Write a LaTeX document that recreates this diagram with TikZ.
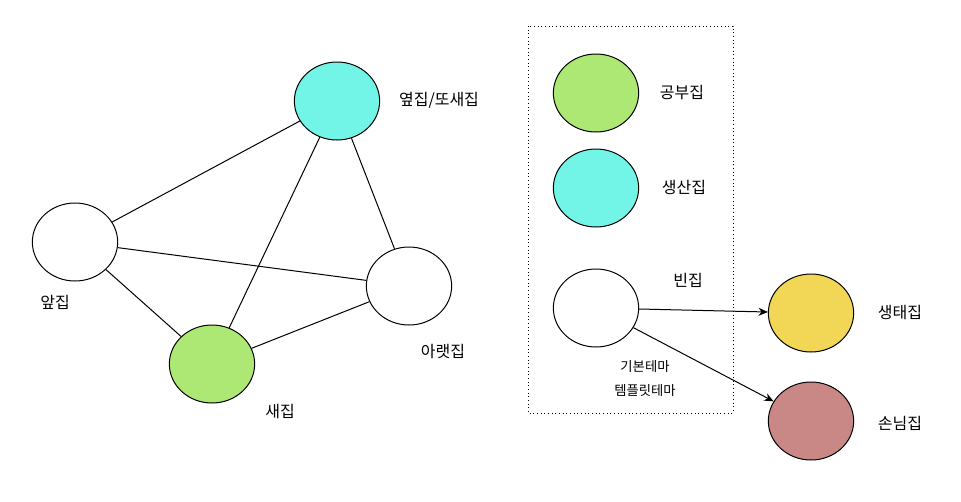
\documentclass[tikz,border=0pt]{standalone}
\usepackage{fontspec}
\setmainfont{Noto Sans CJK KR}
\usetikzlibrary{arrows.meta,shapes.geometric}
\definecolor{cy}{HTML}{72F5E6}
\definecolor{gr}{HTML}{ADE874}
\definecolor{ye}{HTML}{F2D655}
\definecolor{ro}{HTML}{C98886}
\begin{document}
\begin{tikzpicture}[x=0.75pt,y=-0.75pt,
  house/.style={draw,ellipse,minimum width=64pt,minimum height=58.5pt,inner sep=0pt},
  lbl/.style={font=\fontsize{12}{14}\selectfont,inner sep=0pt},
  small/.style={font=\fontsize{10}{12}\selectfont,inner sep=0pt},
  every path/.style={line width=0.75pt}]
\useasboundingbox (0,0) rectangle (961,501);
\draw[dotted] (528,26) rectangle (733,413);
\node[house,fill=cy] (yeop) at (337,101) {};
\node[house] (ap) at (75,242) {};
\node[house] (arae) at (409,286) {};
\node[house,fill=gr] (sae) at (212,364) {};
\node[house,fill=gr] (gongbu) at (596,93) {};
\node[house,fill=cy] (saengsan) at (596,188) {};
\node[house] (bin) at (596,308) {};
\node[house,fill=ye] (saengtae) at (811,313) {};
\node[house,fill=ro] (sonnim) at (811,421) {};
\draw (ap) -- (yeop);
\draw (ap) -- (arae);
\draw (ap) -- (sae);
\draw (yeop) -- (sae);
\draw (yeop) -- (arae);
\draw (sae) -- (arae);
\draw[-{Stealth[length=7pt,width=6pt]}] (bin) -- (saengtae);
\draw[-{Stealth[length=7pt,width=6pt]}] (bin) -- (sonnim);
\node[lbl] (t1) at (439,100) {옆집/또새집};
\node[lbl] (t2) at (55,302) {앞집};
\node[lbl] (t3) at (443,351) {아랫집};
\node[lbl] (t4) at (280,411) {새집};
\node[lbl] (t5) at (682,93) {공부집};
\node[lbl] (t6) at (684,187) {생산집};
\node[lbl] (t7) at (688,280) {빈집};
\node[small] (t8) at (645,366) {기본테마};
\node[small] (t9) at (645,390) {템플릿테마};
\node[lbl] (t10) at (900,312) {생태집};
\node[lbl] (t11) at (900,423) {손님집};
\end{tikzpicture}
\end{document}
